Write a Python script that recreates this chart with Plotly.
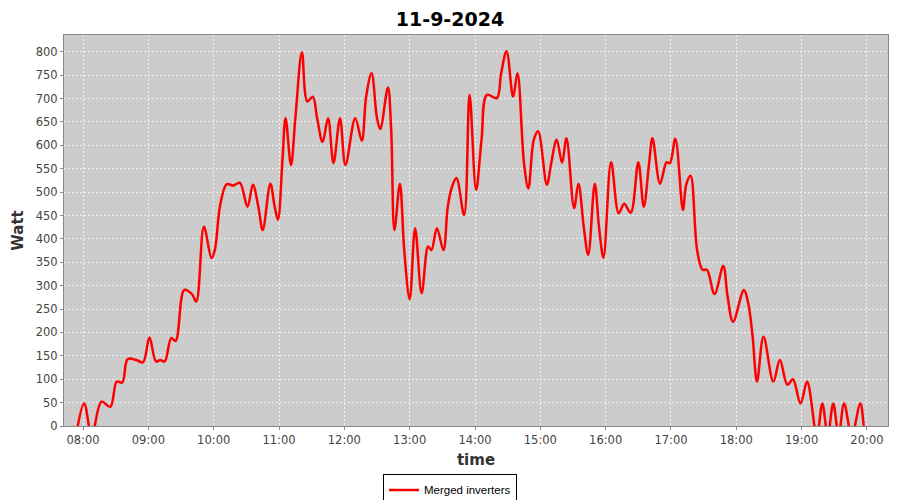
import plotly.graph_objects as go

DATE = "2024-09-11"

times = [
    "07:54", "08:01", "08:08", "08:17", "08:25", "08:31", "08:36", "08:41", "08:49", "08:55",
    "09:01", "09:07", "09:11", "09:15", "09:21", "09:25", "09:33", "09:40", "09:44", "09:51",
    "09:58", "10:01", "10:06", "10:12", "10:18", "10:24", "10:31", "10:36", "10:41", "10:45",
    "10:52", "10:56", "10:59", "11:03", "11:06", "11:11", "11:15", "11:21", "11:26", "11:31",
    "11:35", "11:40", "11:45", "11:50", "11:56", "12:01", "12:10", "12:16", "12:20", "12:25",
    "12:30", "12:33", "12:40", "12:43", "12:46", "12:51", "12:55", "13:00", "13:05", "13:11",
    "13:17", "13:20", "13:25", "13:31", "13:35", "13:39", "13:43", "13:50", "13:55", "14:01",
    "14:06", "14:11", "14:20", "14:24", "14:29", "14:35", "14:39", "14:45", "14:49", "14:54",
    "14:58", "15:06", "15:10", "15:15", "15:20", "15:24", "15:31", "15:35", "15:40", "15:44",
    "15:50", "15:54", "15:58", "16:05", "16:12", "16:17", "16:23", "16:30", "16:35", "16:40",
    "16:43", "16:50", "16:56", "16:59", "17:04", "17:11", "17:14", "17:18", "17:24", "17:29",
    "17:33", "17:40", "17:48", "17:52", "17:57", "18:07", "18:11", "18:15", "18:19", "18:25",
    "18:34", "18:40", "18:47", "18:52", "18:59", "19:05", "19:14", "19:19", "19:24", "19:29",
    "19:34", "19:39", "19:46", "19:54", "19:59", "20:04",
]
watts = [
    -15, 48, -20, 52, 41, 95, 93, 143, 141, 136,
    189, 138, 141, 138, 188, 182, 291, 282, 266, 426,
    359, 376, 473, 517, 514, 520, 469, 516, 469, 419,
    518, 469, 441, 562, 658, 558, 658, 799, 694, 704,
    658, 607, 658, 562, 658, 558, 658, 610, 704, 754,
    658, 635, 724, 633, 419, 518, 376, 271, 423, 284,
    384, 376, 423, 376, 469, 512, 530, 451, 708, 505,
    612, 708, 701, 754, 801, 704, 754, 562, 508, 612,
    630, 516, 562, 612, 563, 615, 466, 518, 423, 366,
    518, 423, 360, 564, 455, 475, 456, 564, 469, 564,
    615, 518, 564, 562, 614, 462, 516, 535, 376, 334,
    334, 282, 342, 277, 223, 291, 262, 191, 95, 191,
    95, 141, 88, 100, 48, 95, -20, 48, -20, 48,
    -20, 48, -20, 48, -20, 0,
]

y_ticks = list(range(0, 801, 50))
x_tick_labels = ["08:00", "09:00", "10:00", "11:00", "12:00", "13:00", "14:00",
                 "15:00", "16:00", "17:00", "18:00", "19:00", "20:00"]

x_vals = [f"{DATE} {t}" for t in times]
x_tick_vals = [f"{DATE} {t}" for t in x_tick_labels]

fig = go.Figure()
fig.add_trace(go.Scatter(
    x=x_vals, y=watts, mode="lines", name="Merged inverters",
    line=dict(color="#FF0000", width=2.5, shape="spline", smoothing=1.0),
))

tick_font = dict(family="DejaVu Sans", size=11.5, color="#444444")
axis_title_font = dict(family="DejaVu Sans", size=15, color="#333333")
fig.update_layout(
    width=892, height=492,
    paper_bgcolor="white", plot_bgcolor="#CCCCCC",
    margin=dict(l=56, r=12, t=27, b=74, autoexpand=False),
    title=dict(text="<b>11-9-2024</b>", x=0.4955, xref="container", y=0.977, yanchor="middle",
               yref="container", pad=dict(t=0, b=0),
               font=dict(family="DejaVu Sans", size=19, color="black")),
    showlegend=True,
    legend=dict(orientation="h", x=0.4955, xanchor="center", xref="container",
                y=0.052, yanchor="top", yref="container",
                bordercolor="black", borderwidth=1, bgcolor="white",
                font=dict(family="Liberation Sans", size=11.5, color="black"),
                itemwidth=30, tracegroupgap=0),
    xaxis=dict(
        type="date",
        automargin=False,
        range=[f"{DATE} 07:42:30", f"{DATE} 20:19:20"],
        tickvals=x_tick_vals, ticktext=x_tick_labels,
        showgrid=True, gridcolor="#F2F2F2", griddash="2px,2px", gridwidth=1,
        ticks="outside", ticklen=3, tickcolor="#888888",
        tickfont=tick_font,
        showline=True, linecolor="#888888", mirror=True, linewidth=1,
        zeroline=False,
        title=dict(text="<b>time</b>", font=axis_title_font, standoff=8),
    ),
    yaxis=dict(
        automargin=False,
        range=[0, 836],
        tickvals=y_ticks,
        showgrid=True, gridcolor="#F2F2F2", griddash="2px,2px", gridwidth=1,
        ticks="outside", ticklen=3, tickcolor="#888888",
        tickfont=tick_font,
        showline=True, linecolor="#888888", mirror=True, linewidth=1,
        zeroline=False,
        title=dict(text="<b>Watt</b>", font=axis_title_font, standoff=8),
    ),
)

fig.write_html("out.html")
